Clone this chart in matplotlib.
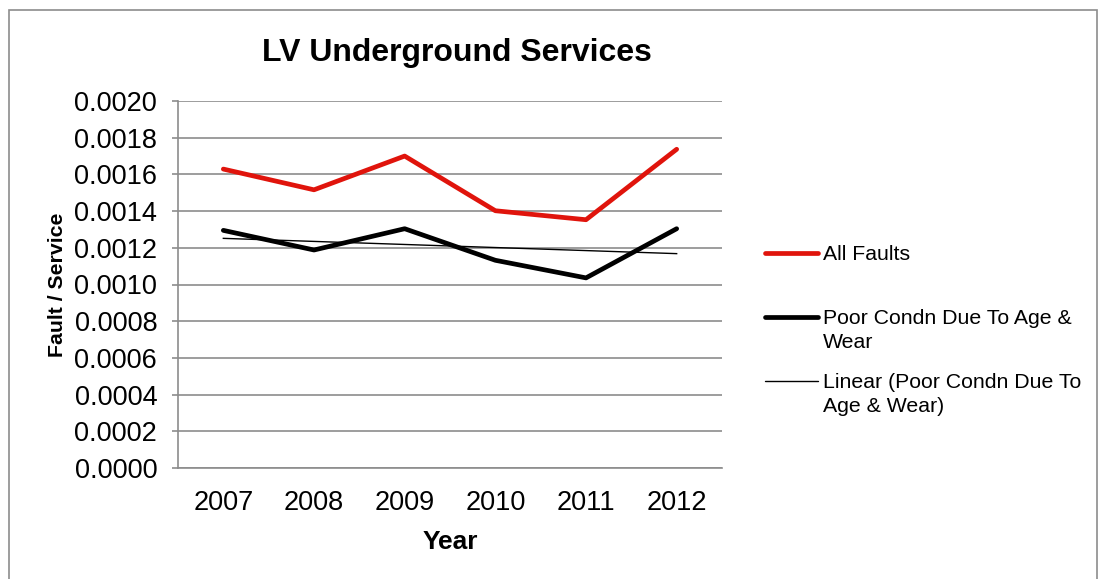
import matplotlib
matplotlib.use('Agg')
import matplotlib.pyplot as plt
from matplotlib.lines import Line2D
from matplotlib.patches import Rectangle
import numpy as np

plt.rcParams['font.family'] = ['Liberation Sans', 'DejaVu Sans']

years = ['2007', '2008', '2009', '2010', '2011', '2012']
all_faults = [0.001629, 0.001516, 0.001700, 0.001402, 0.001353, 0.001737]
poor_condn = [0.001295, 0.001188, 0.001304, 0.001132, 0.001036, 0.001304]
y_ticks = [0.0000, 0.0002, 0.0004, 0.0006, 0.0008, 0.0010, 0.0012, 0.0014, 0.0016, 0.0018, 0.0020]

RED = '#e0140c'
GRID = '#8c8c8c'

fig = plt.figure(figsize=(11.05, 5.79), dpi=100)
fig.patches.append(Rectangle((9 / 1105, -0.05), 1088 / 1105, 1.05 - 10 / 579,
                             transform=fig.transFigure, fill=False,
                             edgecolor=GRID, linewidth=1.2))

ax = fig.add_axes([178 / 1105, 111 / 579, 544 / 1105, 367 / 579])
x = np.arange(len(years))

# trendline from a least-squares fit, like the spreadsheet's "Linear" option
slope, intercept = np.polyfit(x, poor_condn, 1)
trend = slope * x + intercept

ax.plot(x, all_faults, color=RED, linewidth=3.4, solid_capstyle='round', zorder=3)
ax.plot(x, poor_condn, color='black', linewidth=3.4, solid_capstyle='round', zorder=3)
ax.plot(x, trend, color='black', linewidth=1.0, zorder=4)

ax.set_xlim(-0.5, len(years) - 0.5)
ax.set_ylim(0, 0.002)
ax.set_xticks(x)
ax.set_xticklabels(years, fontsize=19.5)
ax.set_yticks(y_ticks)
ax.set_yticklabels([f'{v:.4f}' for v in y_ticks], fontsize=19.5)
ax.tick_params(axis='x', length=0, pad=16)
ax.tick_params(axis='y', length=4.5, width=1.2, color=GRID, pad=10.5)
ax.yaxis.grid(True, color=GRID, linewidth=1.2)
ax.set_axisbelow(True)
for side in ['top', 'right']:
    ax.spines[side].set_visible(False)
for side in ['left', 'bottom']:
    ax.spines[side].set_color(GRID)
    ax.spines[side].set_linewidth(1.2)

ax.set_xlabel('Year', fontsize=19, fontweight='bold', labelpad=10)
ax.set_ylabel('Fault / Service', fontsize=15.3, fontweight='bold', labelpad=5)

fig.text(457 / 1105, 1 - 53 / 579, 'LV Underground Services', fontsize=23,
         fontweight='bold', ha='center', va='center')

# legend drawn by hand so the line sits on the first text row
legend_rows = [
    (253, RED, 3.4, 'All Faults'),
    (317, 'black', 3.4, 'Poor Condn Due To Age &\nWear'),
    (381, 'black', 1.0, 'Linear (Poor Condn Due To\nAge & Wear)'),
]
for ypix, col, lw, label in legend_rows:
    yf = 1 - ypix / 579
    fig.add_artist(Line2D([765 / 1105, 818 / 1105], [yf, yf], color=col,
                          linewidth=lw, solid_capstyle='round',
                          transform=fig.transFigure))
    fig.text(823 / 1105, yf + 8 / 579, label, fontsize=15.3, ha='left', va='top',
             linespacing=1.3)

fig.savefig('out.png', dpi=100)
